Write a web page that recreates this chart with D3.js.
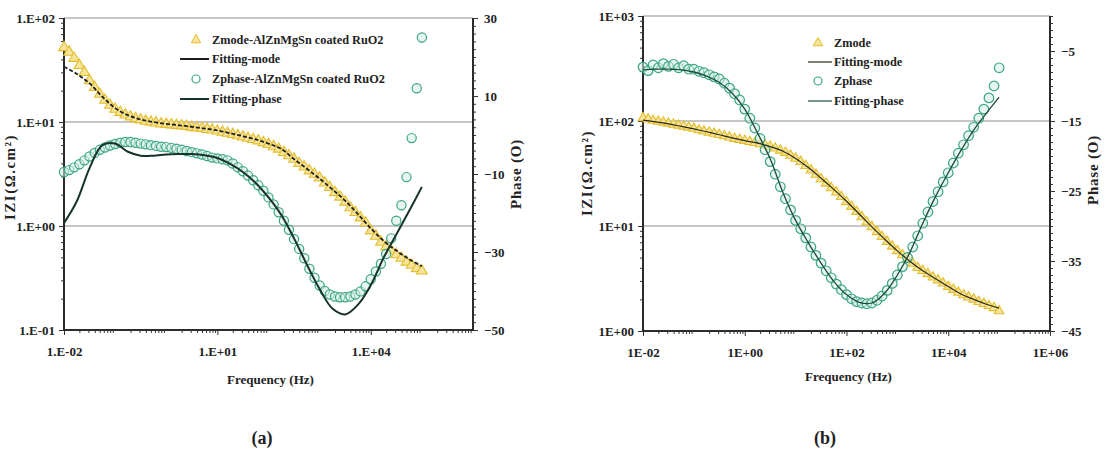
<!DOCTYPE html>
<html>
<head>
<meta charset="utf-8">
<script src="https://cdn.jsdelivr.net/npm/d3@7"></script>
<style>
  html, body { margin: 0; padding: 0; background: #fff; }
  svg { display: block; }
  text { font-family: "Liberation Serif", "Times New Roman", serif; font-weight: bold; fill: #222; }
</style>
</head>
<body>
<svg id="chart" width="1104" height="453"></svg>
<script>
// ---------------- DATA ----------------
// Measured frequencies (Hz), 10 points per decade
const freq = [0.01,0.0126,0.0158,0.02,0.0251,0.0316,0.0398,0.0501,0.0631,0.0794,
  0.1,0.126,0.158,0.2,0.251,0.316,0.398,0.501,0.631,0.794,
  1,1.26,1.58,2,2.51,3.16,3.98,5.01,6.31,7.94,
  10,12.6,15.8,20,25.1,31.6,39.8,50.1,63.1,79.4,
  100,126,158,200,251,316,398,501,631,794,
  1000,1260,1580,2000,2510,3160,3980,5010,6310,7940,
  10000,12600,15800,20000,25100,31600,39800,50100,63100,79400,
  100000];
// Fitting curve frequencies (Hz)
const fitFreq = [0.01,0.0178,0.0316,0.0562,0.1,0.178,0.316,0.562,1,1.78,3.16,5.62,
  10,17.8,31.6,56.2,100,178,316,562,1000,1780,3160,5620,10000,17800,31600,56200,100000];

// Panel (a): AlZnMgSn coated RuO2
const zmodeA = [52,47,41,35,30,25,21.5,18.5,16.2,14.5,
  13.3,12.4,11.7,11.2,10.8,10.5,10.2,10.0,9.8,9.6,
  9.5,9.4,9.3,9.2,9.1,8.9,8.8,8.7,8.5,8.4,
  8.2,8.0,7.8,7.6,7.4,7.2,7.0,6.8,6.6,6.35,
  6.1,5.8,5.5,5.1,4.75,4.4,4.0,3.7,3.4,3.15,
  2.9,2.6,2.35,2.1,1.9,1.7,1.5,1.35,1.2,1.07,
  0.9,0.8,0.7,0.63,0.58,0.53,0.49,0.45,0.42,0.39,
  0.37];
const zphaseA = [-9.5,-9.0,-8.3,-7.5,-6.5,-5.5,-4.6,-3.8,-3.2,-2.7,
  -2.3,-2.0,-1.8,-1.8,-2.0,-2.2,-2.4,-2.6,-2.8,-3.0,
  -3.1,-3.3,-3.5,-3.8,-4.1,-4.4,-4.7,-5.0,-5.4,-5.8,
  -6.0,-6.2,-6.5,-7.3,-8.3,-9.3,-10.4,-11.6,-12.9,-14.3,
  -16.0,-17.8,-19.8,-22.0,-24.3,-26.7,-29.2,-31.6,-34.3,-36.6,
  -38.6,-40.0,-40.9,-41.4,-41.6,-41.6,-41.4,-40.9,-40.1,-38.8,
  -37.0,-35.0,-33.0,-30.5,-26.5,-22.0,-18.0,-10.8,-0.8,12.0,
  25.0];
const fitModeA = [34,29,23.5,17.5,13.6,11.6,10.6,10.0,9.6,9.3,9.0,8.65,
  8.3,7.8,7.3,6.8,6.2,5.5,4.4,3.55,2.85,2.25,1.75,1.3,0.95,0.72,0.58,0.48,0.41];
const fitPhaseA = [-22.6,-17.0,-8.5,-2.6,-2.2,-4.3,-5.3,-5.3,-5.0,-4.9,-4.9,-5.2,
  -5.9,-7.4,-9.5,-12.3,-16.0,-20.5,-26.5,-33.2,-39.5,-44.5,-46.0,-43.5,-38.5,-31.5,-25.5,-19.5,-13.3];

// Panel (b)
const zmodeB = [107,104,101,99,97,95,93,91,89,87,
  85,82,80,78,76,74,72,70,68,66.5,
  65,63.5,62,60.5,59,57,55,52.5,50,47,
  44,41,37.5,34,31,28,25.5,23,21,19,
  17,15.3,13.7,12.2,10.9,9.8,8.8,7.9,7.1,6.4,
  5.8,5.3,4.8,4.4,4.0,3.75,3.5,3.25,3.05,2.85,
  2.65,2.48,2.33,2.2,2.1,2.0,1.9,1.82,1.74,1.66,
  1.55];
const zphaseB = [-7.3,-7.8,-7.0,-7.4,-6.8,-7.2,-6.9,-7.4,-7.1,-7.6,
  -7.6,-7.9,-8.1,-8.4,-8.7,-9.0,-9.6,-10.3,-11.1,-12.0,
  -13.3,-14.6,-16.0,-17.5,-19.1,-20.8,-22.6,-24.4,-26.1,-27.7,
  -29.2,-30.4,-31.7,-33.0,-34.2,-35.3,-36.4,-37.4,-38.3,-39.1,
  -39.8,-40.4,-40.8,-41.0,-41.1,-41.0,-40.6,-40.0,-39.2,-38.2,
  -37.0,-35.8,-34.5,-33.0,-31.4,-29.6,-28.0,-26.5,-25.1,-23.7,
  -22.4,-21.0,-19.6,-18.4,-17.1,-15.9,-14.6,-13.3,-11.7,-10.0,
  -7.4];
const fitModeB = [102,98,94,89,84,79,74,69,65,61.5,57,51.5,
  44,36,28.5,22.3,17.2,13.0,9.8,7.5,5.8,4.6,3.75,3.15,2.65,2.25,2.0,1.8,1.65];
const fitPhaseB = [-7.7,-7.6,-7.6,-7.7,-8.0,-8.6,-9.5,-11.0,-13.3,-16.7,-20.4,-25.2,
  -29.2,-32.4,-35.3,-37.9,-39.8,-40.9,-41.0,-39.6,-37.0,-33.7,-29.6,-25.8,-22.4,-19.2,-16.3,-13.9,-11.6];

// Tick labels
const xTicksA = [0.01, 10, 10000];
const xLabelsA = ["1.E-02", "1.E+01", "1.E+04"];
const yTicksA = [0.1, 1, 10, 100];
const yLabelsA = ["1.E-01", "1.E+00", "1.E+01", "1.E+02"];
const rTicksA = [-50, -30, -10, 10, 30];
const xTicksB = [0.01, 1, 100, 10000, 1000000];
const xLabelsB = ["1E-02", "1E+00", "1E+02", "1E+04", "1E+06"];
const yTicksB = [1, 10, 100, 1000];
const yLabelsB = ["1E+00", "1E+01", "1E+02", "1E+03"];
const rTicksB = [-45, -35, -25, -15, -5];

const legendA = ["Zmode-AlZnMgSn coated RuO2", "Fitting-mode", "Zphase-AlZnMgSn coated RuO2", "Fitting-phase"];
const legendB = ["Zmode", "Fitting-mode", "Zphase", "Fitting-phase"];

// ---------------- DRAW ----------------
const svg = d3.select("#chart");
const YEL_STROKE = "#e3bd2c", YEL_FILL = "#f6e49a";
const GRN_STROKE = "#3aa583", GRN_FILL = "#d6efe4";

function minorLogTicks(domain) {
  const out = [];
  for (let e = Math.round(Math.log10(domain[0])); e < Math.round(Math.log10(domain[1])); e++) {
    for (let m = 2; m <= 9; m++) out.push(m * Math.pow(10, e));
  }
  return out;
}

function drawPanel(c) {
  const g = svg.append("g");
  const x = d3.scaleLog().domain(c.xDomain).range([c.left, c.right]);
  const yL = d3.scaleLog().domain(c.yDomain).range([c.bottom, c.top]);
  const yR = d3.scaleLinear().domain(c.rDomain).range([c.bottom, c.top]);

  // gridlines at major left ticks
  g.append("g").selectAll("line").data(c.yTicks).join("line")
    .attr("x1", c.left).attr("x2", c.right)
    .attr("y1", d => yL(d)).attr("y2", d => yL(d))
    .attr("stroke", "#b3b3b3").attr("stroke-width", 1.3);

  const fs = "13px";
  // left axis
  const la = g.append("g").attr("transform", `translate(${c.left},0)`)
    .call(d3.axisLeft(yL).tickValues(c.yTicks).tickSize(5).tickPadding(4)
      .tickFormat((d, i) => c.yLabels[i]));
  la.append("g").call(d3.axisLeft(yL).tickValues(minorLogTicks(c.yDomain)).tickSize(3).tickFormat(""));
  // bottom axis
  const ba = g.append("g").attr("transform", `translate(0,${c.bottom})`)
    .call(d3.axisBottom(x).tickValues(c.xTicks).tickSize(5).tickPadding(12)
      .tickFormat((d, i) => c.xLabels[i]));
  ba.append("g").call(d3.axisBottom(x).tickValues(minorLogTicks(c.xDomain)).tickSize(3).tickFormat(""));
  // right axis
  const ra = g.append("g").attr("transform", `translate(${c.right},0)`)
    .call(d3.axisRight(yR).tickValues(c.rTicks).tickSize(5).tickPadding(6));
  ra.append("g").call(d3.axisRight(yR).tickValues(d3.range(c.rDomain[0], c.rDomain[1] + 0.001, c.rMinor)).tickSize(3).tickFormat(""));

  [la, ba, ra].forEach(a => {
    a.selectAll("text").style("font-size", fs).attr("fill", "#222");
    a.selectAll(".domain").attr("stroke", "#222").attr("stroke-width", 1.6);
    a.selectAll(".tick line").attr("stroke", "#333").attr("stroke-width", 1);
  });
  la.selectAll(".domain").attr("d", `M0,${c.bottom}V${c.top}`);
  ra.selectAll(".domain").attr("d", `M0,${c.bottom}V${c.top}`);
  ba.selectAll(".domain").attr("d", `M${c.left},0H${c.right}`);

  // Data: triangles (modulus)
  const tri = d3.symbol().type(d3.symbolTriangle).size(c.triSize);
  g.append("g").selectAll("path").data(c.zmode).join("path")
    .attr("d", tri)
    .attr("transform", (d, i) => `translate(${x(freq[i])},${yL(d)})`)
    .attr("fill", YEL_FILL).attr("stroke", YEL_STROKE).attr("stroke-width", 1.1);

  // circles (phase)
  g.append("g").selectAll("circle").data(c.zphase).join("circle")
    .attr("cx", (d, i) => x(freq[i])).attr("cy", d => yR(d)).attr("r", c.circR)
    .attr("fill", GRN_FILL).attr("fill-opacity", 0.55)
    .attr("stroke", GRN_STROKE).attr("stroke-width", 1.2);

  // fitting lines
  const lineL = d3.line().x((d, i) => x(fitFreq[i])).y(d => yL(d)).curve(d3.curveCatmullRom.alpha(0.5));
  const lineR = d3.line().x((d, i) => x(fitFreq[i])).y(d => yR(d)).curve(d3.curveCatmullRom.alpha(0.5));
  g.append("path").attr("d", lineL(c.fitMode)).attr("fill", "none")
    .attr("stroke", c.modeColor).attr("stroke-width", c.modeWidth)
    .attr("stroke-dasharray", c.modeDash || null);
  g.append("path").attr("d", lineR(c.fitPhase)).attr("fill", "none")
    .attr("stroke", c.phaseColor).attr("stroke-width", c.phaseWidth);

  // axis titles
  g.append("text").attr("transform", `translate(${c.leftTitleX},${c.leftTitleY}) rotate(-90)`)
    .attr("text-anchor", "middle").style("font-size", "15px").style("letter-spacing", "1.5px").text("IZI(Ω.cm²)");
  g.append("text").attr("transform", `translate(${c.rightTitleX},${c.rightTitleY}) rotate(-90)`)
    .attr("text-anchor", "middle").style("font-size", "15px").style("letter-spacing", "0.8px").text("Phase (O)");
  g.append("text").attr("x", (c.left + c.right) / 2 + 2).attr("y", c.freqTitleY)
    .attr("text-anchor", "middle").style("font-size", "13px").text("Frequency (Hz)");

  // legend
  const lg = g.append("g");
  c.legend.forEach((t, i) => {
    const yy = c.legY[i];
    if (i === 0) {
      lg.append("path").attr("d", d3.symbol().type(d3.symbolTriangle).size(40)())
        .attr("transform", `translate(${c.legMarkX},${yy})`)
        .attr("fill", YEL_FILL).attr("stroke", YEL_STROKE).attr("stroke-width", 1);
    } else if (i === 2) {
      lg.append("circle").attr("cx", c.legMarkX).attr("cy", yy).attr("r", 4)
        .attr("fill", "#fff").attr("stroke", GRN_STROKE).attr("stroke-width", 1.2);
    } else {
      lg.append("line").attr("x1", c.legLineX[0]).attr("x2", c.legLineX[1])
        .attr("y1", yy).attr("y2", yy)
        .attr("stroke", i === 1 ? c.modeColor : c.phaseColor).attr("stroke-width", c.legLineW);
    }
    lg.append("text").attr("x", c.legTextX).attr("y", yy + 4).style("font-size", "12.3px").text(t);
  });

  // panel label
  svg.append("text").attr("x", c.panelLabelX).attr("y", 444).attr("text-anchor", "middle")
    .style("font-size", "18px").text(c.panelLabel);
}

drawPanel({
  left: 64, right: 473, top: 18, bottom: 330,
  xDomain: [0.01, 1e6], yDomain: [0.1, 100], rDomain: [-50, 30], rMinor: 2,
  xTicks: xTicksA, xLabels: xLabelsA, yTicks: yTicksA, yLabels: yLabelsA, rTicks: rTicksA,
  zmode: zmodeA, zphase: zphaseA, fitMode: fitModeA, fitPhase: fitPhaseA,
  triSize: 50, circR: 4.6,
  modeColor: "#1e1e1e", modeWidth: 1.8, modeDash: "4,2",
  phaseColor: "#17332a", phaseWidth: 2,
  leftTitleX: 15, leftTitleY: 177, rightTitleX: 521, rightTitleY: 174, freqTitleY: 384,
  legend: legendA, legY: [40, 59, 79, 99], legMarkX: 196, legLineX: [180, 209], legTextX: 212, legLineW: 2,
  panelLabel: "(a)", panelLabelX: 262
});

drawPanel({
  left: 643, right: 1050, top: 16, bottom: 331,
  xDomain: [0.01, 1e6], yDomain: [1, 1000], rDomain: [-45, 0], rMinor: 1,
  xTicks: xTicksB, xLabels: xLabelsB, yTicks: yTicksB, yLabels: yLabelsB, rTicks: rTicksB,
  zmode: zmodeB, zphase: zphaseB, fitMode: fitModeB, fitPhase: fitPhaseB,
  triSize: 40, circR: 4.8,
  modeColor: "#2a2a14", modeWidth: 1.2, modeDash: null,
  phaseColor: "#1d4a3c", phaseWidth: 1.3,
  leftTitleX: 592, leftTitleY: 173, rightTitleX: 1098, rightTitleY: 170, freqTitleY: 381,
  legend: legendB, legY: [43, 62, 81, 101], legMarkX: 818, legLineX: [808, 832], legTextX: 834, legLineW: 1.2,
  panelLabel: "(b)", panelLabelX: 825
});
</script>
</body>
</html>
